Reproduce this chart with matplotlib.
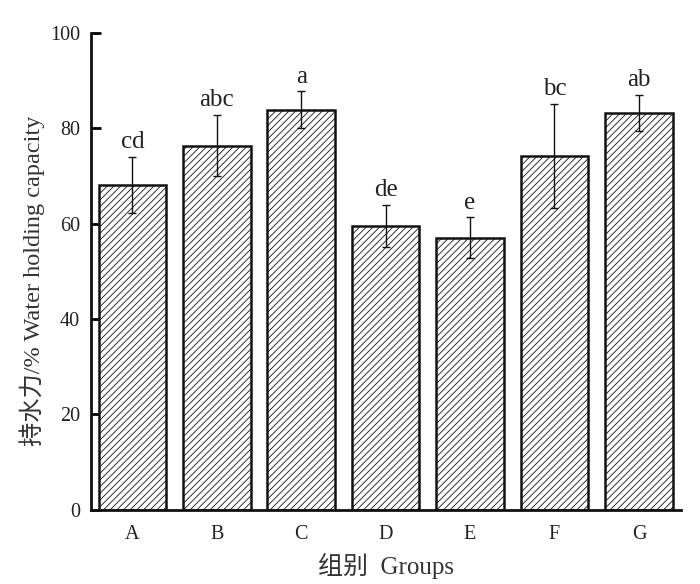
import numpy as np
import matplotlib
matplotlib.use("Agg")
import matplotlib.pyplot as plt

plt.rcParams['font.family'] = ['Liberation Serif', 'Noto Sans CJK SC']
plt.rcParams['hatch.linewidth'] = 0.6
plt.rcParams['hatch.color'] = '#3a3a3a'

groups = ['A', 'B', 'C', 'D', 'E', 'F', 'G']
capacity = [68.1, 76.3, 83.9, 59.5, 57.0, 74.2, 83.2]
errors = [5.9, 6.4, 3.8, 4.4, 4.3, 10.9, 3.7]
letters = ['cd', 'abc', 'a', 'de', 'e', 'bc', 'ab']

fig = plt.figure(figsize=(7, 5.84), dpi=100)
ax = fig.add_axes([0.13, 0.127, 0.843, 0.817])

x = np.arange(len(groups))
ax.bar(x, capacity, width=0.8, color='white', edgecolor='#111111',
       linewidth=1.8, hatch='/////', zorder=2)
ax.errorbar(x, capacity, yerr=errors, fmt='none', ecolor='#111111',
            elinewidth=1.0, capsize=3, capthick=1.0, zorder=3)

# significance letters above the error bars
for xi, m, e, lab in zip(x, capacity, errors, letters):
    ax.text(xi, m + e + 0.8, lab, ha='center', va='bottom', fontsize=18,
            color='#222222')

ax.set_xlim(-0.49, 6.5)
ax.set_ylim(0, 100)
ax.set_yticks([0, 20, 40, 60, 80, 100])
ax.set_xticks(x)
ax.set_xticklabels(groups)

for s in ['top', 'right']:
    ax.spines[s].set_visible(False)
for s in ['left', 'bottom']:
    ax.spines[s].set_linewidth(2.0)
    ax.spines[s].set_color('#111111')

ax.tick_params(axis='y', direction='in', length=7, width=2, labelsize=14.5,
               pad=8, labelcolor='#222222')
ax.tick_params(axis='x', direction='in', length=5, width=1, labelsize=14.5,
               pad=11, labelcolor='#222222')

ax.set_xlabel('组别  Groups', fontsize=18, labelpad=6, color='#333333')
ax.set_ylabel('持水力/% Water holding capacity', fontsize=17.5, color='#333333')
ax.yaxis.set_label_coords(-0.078, 0.48)

plt.savefig('out.png', dpi=100)
